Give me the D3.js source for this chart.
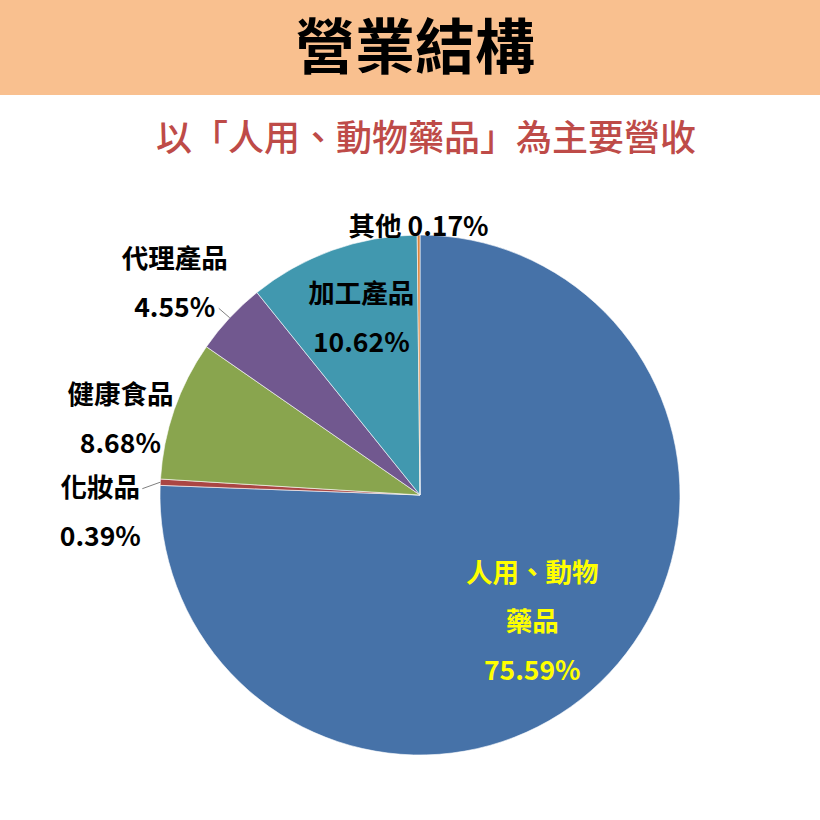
<!DOCTYPE html>
<html>
<head>
<meta charset="utf-8">
<script src="https://cdn.jsdelivr.net/npm/d3@7"></script>
<style>
    body { margin: 0; background: #fff; }
    text { font-family: "Noto Sans CJK TC", "Noto Sans", sans-serif; font-weight: bold; }
</style>
</head>
<body>
<div id="pie-chart"></div>
<script>

// chart data
let categories = ["人用、動物藥品", "化妝品", "健康食品", "代理產品", "加工產品", "其他"];
let shares = [75.59, 0.39, 8.68, 4.55, 10.62, 0.17];
let labelLines = [["人用、動物", "藥品"], ["化妝品"], ["健康食品"], ["代理產品"], ["加工產品"], ["其他"]];

let titleText = "營業結構";
let subtitleText = "以「人用、動物藥品」為主要營收";

// slice colours, excel style
let sliceColors = ["#4672A8", "#AA4643", "#89A54E", "#71588F", "#4198AF", "#DB843D"];

// label placement: radius factor from the pie centre plus small nudges
let labelLayout = [
    {k: 0.65, dx: -5, dy: 5, fill: "#FFFF00", inline: false, leader: false},
    {k: 1.0, dx: -60, dy: 30, fill: "#000", inline: false, leader: true},
    {k: 1.0, dx: -54, dy: 10, fill: "#000", inline: false, leader: false},
    {k: 1.0, dx: -55, dy: -35, fill: "#000", inline: false, leader: true},
    {k: 0.68, dx: 1, dy: -10, fill: "#000", inline: false, leader: false},
    {k: 1.04, dx: 0, dy: 2, fill: "#000", inline: true, leader: false}
];

class PieVis {

    constructor(parentElement) {
        this.parentElement = parentElement;
        this.data = categories.map((c, i) => ({name: c, value: shares[i], lines: labelLines[i]}));
        this.initVis();
    }

    initVis() {
        let vis = this;

        vis.width = 820;
        vis.height = 820;

        vis.svg = d3.select("#" + vis.parentElement).append("svg")
            .attr("width", vis.width)
            .attr("height", vis.height);

        // header band
        vis.svg.append("rect")
            .attr("x", 0)
            .attr("y", 0)
            .attr("width", vis.width)
            .attr("height", 95)
            .attr("fill", "#F9C08F");

        vis.svg.append("text")
            .attr("x", 415)
            .attr("y", 69)
            .attr("text-anchor", "middle")
            .attr("font-size", 60)
            .attr("fill", "#000")
            .text(titleText);

        vis.svg.append("text")
            .attr("x", 426)
            .attr("y", 151)
            .attr("text-anchor", "middle")
            .attr("font-size", 36)
            .style("font-weight", 500)
            .attr("fill", "#BE4B48")
            .text(subtitleText);

        vis.cx = 420;
        vis.cy = 495;
        vis.radius = 260;

        vis.pieGroup = vis.svg.append("g")
            .attr("transform", `translate(${vis.cx}, ${vis.cy})`);

        vis.pie = d3.pie()
            .sort(null)
            .value(d => d.value);

        vis.arc = d3.arc()
            .innerRadius(0)
            .outerRadius(vis.radius);

        vis.color = d3.scaleOrdinal()
            .domain(categories)
            .range(sliceColors);

        vis.updateVis();
    }

    updateVis() {
        let vis = this;

        let arcs = vis.pie(vis.data);

        vis.pieGroup.selectAll(".slice")
            .data(arcs)
            .enter().append("path")
            .attr("class", "slice")
            .attr("d", vis.arc)
            .attr("fill", d => vis.color(d.data.name))
            .attr("stroke", "#fff")
            .attr("stroke-width", 0.6);

        // polar helper, angle measured clockwise from 12 o'clock
        let polar = (a, r) => [Math.sin(a) * r, -Math.cos(a) * r];

        arcs.forEach((d, i) => {
            let lay = labelLayout[i];
            let mid = (d.startAngle + d.endAngle) / 2;
            let p = polar(mid, vis.radius * lay.k);
            let x = p[0] + lay.dx;
            let y = p[1] + lay.dy;
            let pct = d.data.value.toFixed(2) + "%";

            let g = vis.pieGroup.append("g")
                .attr("class", "label")
                .attr("transform", `translate(${x}, ${y})`);

            if (lay.inline) {
                g.append("text")
                    .attr("text-anchor", "middle")
                    .attr("dy", "0.35em")
                    .attr("font-size", 26.5)
                    .attr("fill", lay.fill)
                    .text(d.data.lines[0] + " " + pct);
                return;
            }

            let lines = d.data.lines.concat([pct]);
            let step = 49;
            let top = -(lines.length - 1) * step / 2;

            lines.forEach((t, j) => {
                g.append("text")
                    .attr("text-anchor", "middle")
                    .attr("y", top + j * step)
                    .attr("dy", "0.35em")
                    .attr("font-size", 26.5)
                    .attr("fill", lay.fill)
                    .text(t);
            });

            if (lay.leader) {
                let edge = polar(mid, vis.radius);
                // start from the right end of the first line for 化妝品, of the last for 代理產品
                let start = i === 1 ? [x + 42, y + top + 1] : [x + 44, y + top + step + 1];
                vis.pieGroup.append("line")
                    .attr("x1", start[0])
                    .attr("y1", start[1])
                    .attr("x2", edge[0])
                    .attr("y2", edge[1])
                    .attr("stroke", "#7f7f7f")
                    .attr("stroke-width", 1);
            }
        });
    }
}

let myPieVis = new PieVis("pie-chart");

</script>
</body>
</html>
